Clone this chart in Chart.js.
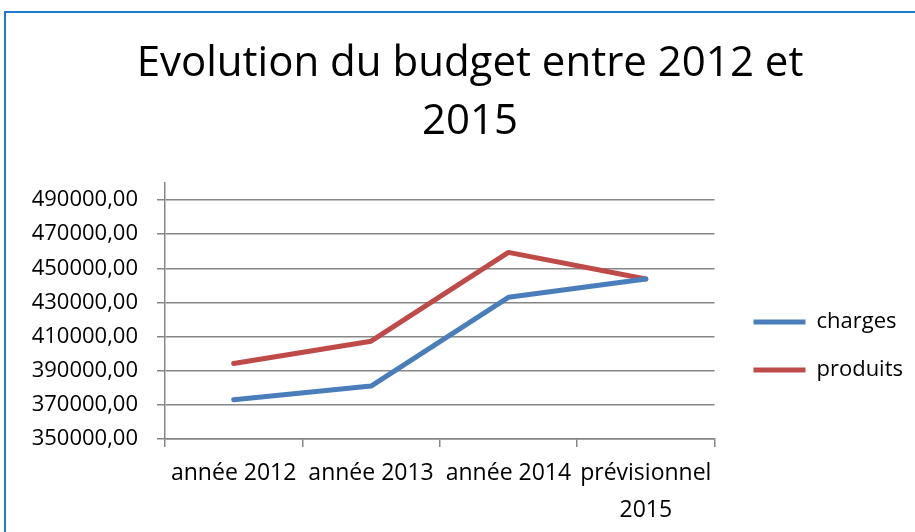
<!DOCTYPE html>
<html>
<head>
<meta charset="utf-8">
<script src="https://cdn.jsdelivr.net/npm/chart.js@4.4.1/dist/chart.umd.min.js"></script>
<style>
  html, body { margin: 0; padding: 0; background: #fff; overflow: hidden; }
  #frame {
    position: absolute; left: 4px; top: 11px;
    width: 935px; height: 519px;
    border-left: 2px solid #1F7BD0; border-top: 2px solid #1F7BD0;
  }
</style>
</head>
<body>
<div id="frame"><canvas id="budget-chart" width="935" height="519"></canvas></div>
<script>
// categories and values
const categories = ["année 2012", "année 2013", "année 2014", ["prévisionnel", "2015"]];
const charges = [373000, 381000, 433000, 443700];
const produits = [394200, 407300, 459300, 443700];
const yTicks = [350000, 370000, 390000, 410000, 430000, 450000, 470000, 490000];

const font = "'Open Sans', sans-serif";
const gridColor = "#868686";

let ctx = document.getElementById("budget-chart").getContext("2d");

let budgetChart = new Chart(ctx, {
    type: "line",
    data: {
        labels: categories,
        datasets: [
            {
                label: "charges",
                data: charges,
                borderColor: "#4A7EBB",
                backgroundColor: "#4A7EBB",
                borderWidth: 5,
                borderCapStyle: "round",
                borderJoinStyle: "round",
                pointRadius: 0,
                fill: false,
                tension: 0
            },
            {
                label: "produits",
                data: produits,
                borderColor: "#BE4B48",
                backgroundColor: "#BE4B48",
                borderWidth: 5,
                borderCapStyle: "round",
                borderJoinStyle: "round",
                pointRadius: 0,
                fill: false,
                tension: 0
            }
        ]
    },
    options: {
        responsive: false,
        animation: false,
        layout: { padding: { left: 21, right: 28, top: 0, bottom: 0 } },
        plugins: {
            title: {
                display: true,
                text: ["Evolution du budget entre 2012 et", "2015"],
                color: "#000",
                font: { family: font, size: 42, weight: "normal", lineHeight: 1.38 },
                padding: { top: 22, bottom: 32 }
            },
            legend: {
                position: "right",
                maxWidth: 300,
                // empty title only pushes the two entries down beside the plot
                title: {
                    display: true,
                    text: " ",
                    font: { family: font, size: 10, lineHeight: 1 },
                    padding: { top: 137, bottom: 0 }
                },
                labels: {
                    color: "#000",
                    font: { family: font, size: 22 },
                    usePointStyle: true,
                    pointStyle: "line",
                    pointStyleWidth: 52,
                    padding: 26
                }
            },
            tooltip: { enabled: false }
        },
        scales: {
            x: {
                offset: true,
                grid: {
                    offset: true,
                    drawOnChartArea: false,
                    drawTicks: true,
                    tickLength: 8,
                    color: gridColor,
                    lineWidth: 1.5
                },
                border: { color: gridColor, width: 1.5 },
                ticks: {
                    color: "#000",
                    font: { family: font, size: 23, lineHeight: 1.6 },
                    padding: 8,
                    maxRotation: 0,
                    autoSkip: false
                },
                afterFit: (s) => { s.height = 93; }
            },
            y: {
                min: 350000,
                max: 500000,
                grid: {
                    color: gridColor,
                    lineWidth: 1.5,
                    tickLength: 8
                },
                border: { color: gridColor, width: 1.5 },
                ticks: {
                    color: "#000",
                    font: { family: font, size: 22 },
                    padding: 19,
                    callback: (v) => v.toFixed(2).replace(".", ",")
                },
                afterBuildTicks: (s) => { s.ticks = yTicks.map(v => ({ value: v })); },
                afterFit: (s) => { s.width = 138; }
            },
            gap: {
                position: "right",
                display: true,
                grid: { display: false },
                border: { display: false },
                ticks: { display: false },
                afterFit: (s) => { s.width = 13; }
            }
        }
    }
});
</script>
</body>
</html>
